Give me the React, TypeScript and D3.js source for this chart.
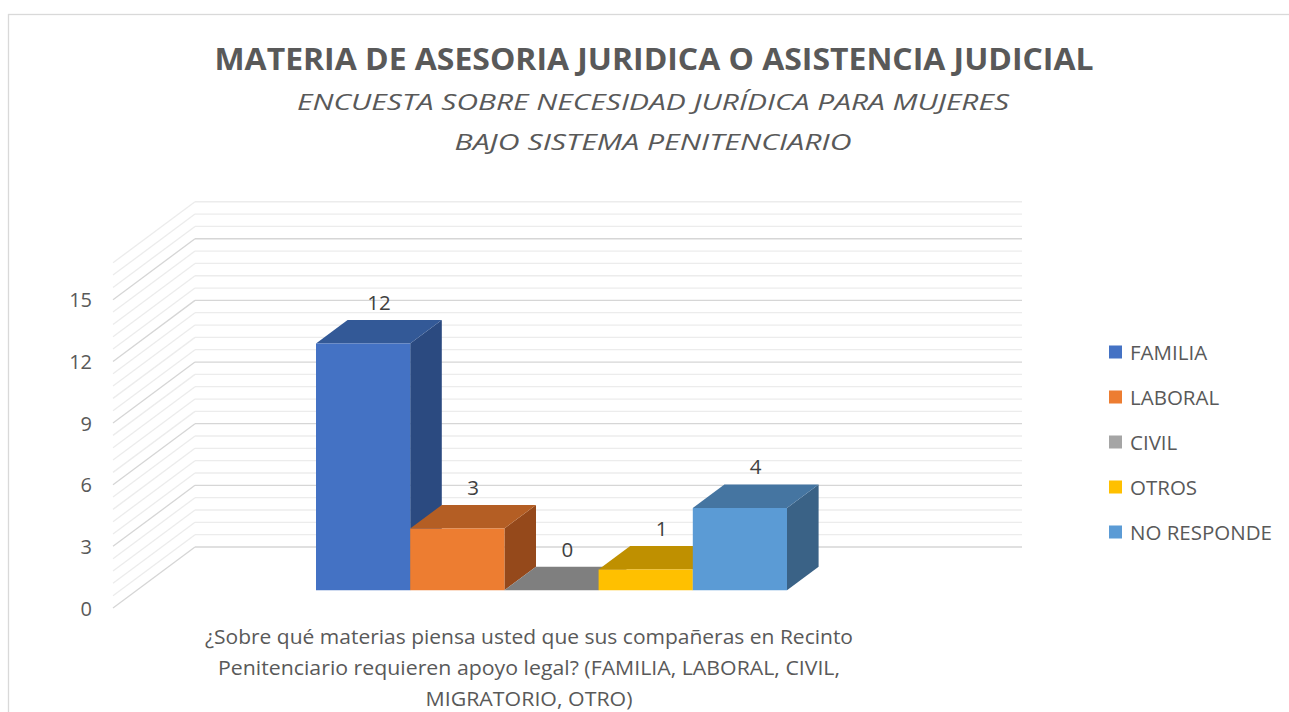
import * as d3 from 'd3';
import React from 'react';

const series = ['FAMILIA', 'LABORAL', 'CIVIL', 'OTROS', 'NO RESPONDE'];
const values = [12, 3, 0, 1, 4];
const yTicks = [0, 3, 6, 9, 12, 15];
const colors = ['#4472C4', '#ED7D31', '#A5A5A5', '#FFC000', '#5B9BD5'];
const topColors = ['#335997', '#B45E24', '#7F7F7F', '#BF9000', '#4575A1'];
const sideColors = ['#2B4A80', '#95491B', '#6B6B6B', '#9E7700', '#3A6286'];
const axisTitle = [
  '¿Sobre qué materias piensa usted que sus compañeras en Recinto',
  'Penitenciario requieren apoyo legal? (FAMILIA, LABORAL, CIVIL,',
  'MIGRATORIO, OTRO)',
];
const axisTitleWidths = [648, 622, 207];

const W = 1289;
const H = 712;
const font = "'Open Sans', 'Noto Sans', sans-serif";

// oblique 3d: depth goes up and to the right
const slope = 0.744;
const wallDepth = 82;
const barZ0 = 24;
const barZ1 = 55.6;
const plotLeft = 113;
const plotRight = 940;

function App() {
  const y = d3.scaleLinear().domain([0, 16.8]).range([608, 608 - 16.8 * 20.55]);
  const x = d3.scaleBand().domain(series).range([292, 763]).padding(0);
  const bw = x.bandwidth();

  const px = (xx, z) => xx + z;
  const py = (v, z) => y(v) - z * slope;

  const grid = d3.range(0, 29).map((i) => +(i * 0.6).toFixed(1));

  const poly = (pts) => pts.map((p) => p.join(',')).join(' ');

  return (
    <svg width={W} height={H} style={{ position: 'absolute', left: 0, top: 0, background: '#fff' }}>
      <rect x={8.5} y={14.5} width={1300} height={720} fill="#fff" stroke="#d9d9d9" strokeWidth={1.3} />

      <text x={654} y={70} textAnchor="middle" fontFamily={font} fontWeight="bold" fontSize={31}
        fill="#595959" textLength={879} lengthAdjust="spacingAndGlyphs">
        MATERIA DE ASESORIA JURIDICA O ASISTENCIA JUDICIAL
      </text>
      <text x={653} y={110} textAnchor="middle" fontFamily={font} fontStyle="italic" fontSize={22.5}
        fill="#595959" textLength={712} lengthAdjust="spacingAndGlyphs">
        ENCUESTA SOBRE NECESIDAD JURÍDICA PARA MUJERES
      </text>
      <text x={653} y={150} textAnchor="middle" fontFamily={font} fontStyle="italic" fontSize={22.5}
        fill="#595959" textLength={397} lengthAdjust="spacingAndGlyphs">
        BAJO SISTEMA PENITENCIARIO
      </text>

      {/* walls */}
      <g fill="none">
        {grid.map((t) => {
          const major = Math.abs(t % 3) < 0.01;
          return (
            <g key={t} stroke={major ? '#d6d6d6' : '#ececec'} strokeWidth={1.3}>
              <line x1={px(plotLeft, 0)} y1={py(t, 0)} x2={px(plotLeft, wallDepth)} y2={py(t, wallDepth)} />
              <line x1={px(plotLeft, wallDepth)} y1={py(t, wallDepth)} x2={px(plotRight, wallDepth)} y2={py(t, wallDepth)} />
            </g>
          );
        })}
      </g>

      {yTicks.map((t) => (
        <text key={t} x={92} y={y(t)} textAnchor="end" dominantBaseline="central" fontFamily={font}
          fontSize={20} fill="#595959">{t}</text>
      ))}

      {/* bars */}
      {series.map((s, i) => {
        const x0 = x(s);
        const x1 = x0 + bw;
        const v = values[i];
        const front = [[px(x0, barZ0), py(v, barZ0)], [px(x1, barZ0), py(v, barZ0)],
          [px(x1, barZ0), py(0, barZ0)], [px(x0, barZ0), py(0, barZ0)]];
        const top = [[px(x0, barZ0), py(v, barZ0)], [px(x1, barZ0), py(v, barZ0)],
          [px(x1, barZ1), py(v, barZ1)], [px(x0, barZ1), py(v, barZ1)]];
        const side = [[px(x1, barZ0), py(v, barZ0)], [px(x1, barZ1), py(v, barZ1)],
          [px(x1, barZ1), py(0, barZ1)], [px(x1, barZ0), py(0, barZ0)]];
        return (
          <g key={s}>
            <polygon points={poly(side)} fill={sideColors[i]} />
            <polygon points={poly(top)} fill={topColors[i]} />
            {v > 0 && <polygon points={poly(front)} fill={colors[i]} />}
          </g>
        );
      })}

      {series.map((s, i) => (
        <text key={s} x={px(x(s) + bw / 2, (barZ0 + barZ1) / 2)} y={py(values[i], barZ1) - 18}
          textAnchor="middle" dominantBaseline="central" fontFamily={font} fontSize={20.5} fill="#404040">
          {values[i]}
        </text>
      ))}

      {axisTitle.map((l, i) => (
        <text key={i} x={529} y={644 + i * 31} textAnchor="middle" fontFamily={font} fontSize={20.5}
          fill="#595959" textLength={axisTitleWidths[i]} lengthAdjust="spacingAndGlyphs">{l}</text>
      ))}

      {/* legend */}
      {series.map((s, i) => (
        <g key={s} transform={`translate(1109, ${352 + i * 45})`}>
          <rect x={0} y={-6.5} width={13} height={13} fill={colors[i]} />
          <text x={21} y={0} dominantBaseline="central" fontFamily={font} fontSize={20.5} fill="#595959">{s}</text>
        </g>
      ))}
    </svg>
  );
}

export default App;
